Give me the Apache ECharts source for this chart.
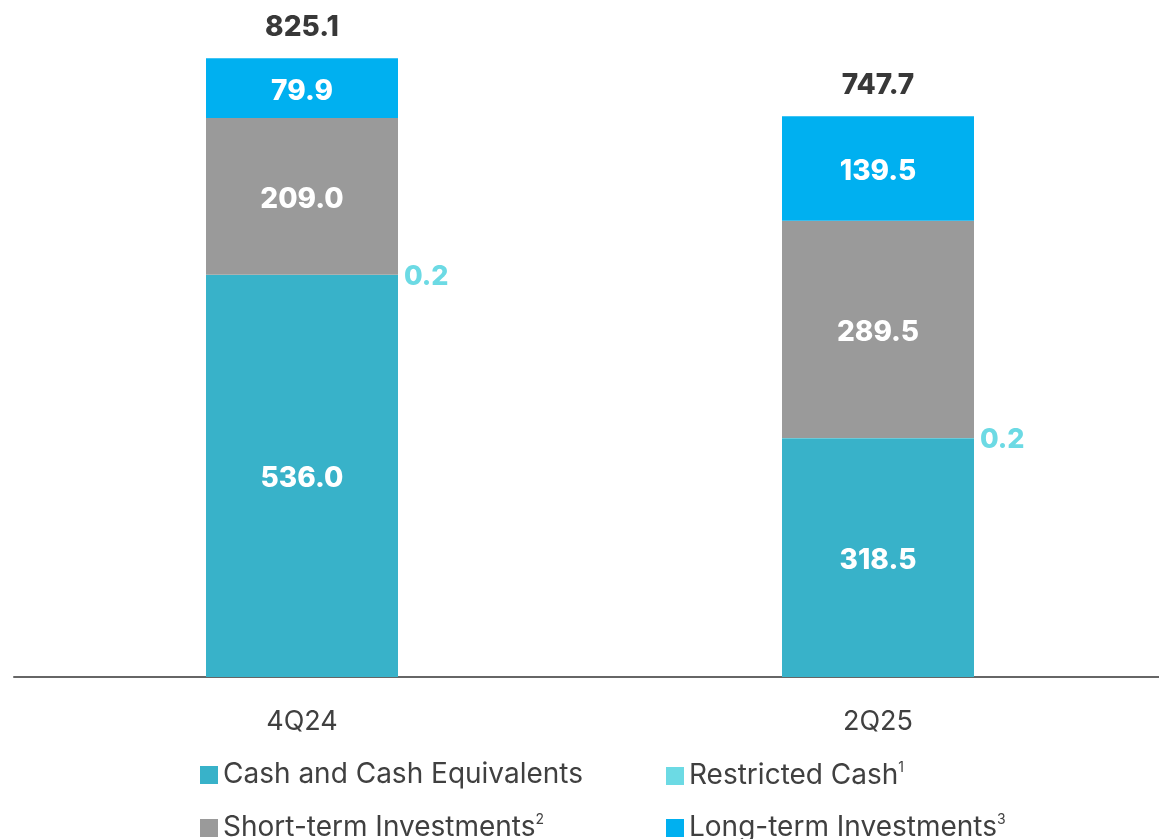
<!DOCTYPE html>
<html>
<head>
<meta charset="utf-8">
<script src="https://cdn.jsdelivr.net/npm/echarts@6/dist/echarts.min.js"></script>
<style>
  html, body { margin: 0; padding: 0; background: #fff; overflow: hidden; }
  /* a bit wider than the window so the category bands match the original */
  #chart { width: 1166px; height: 839px; }
</style>
</head>
<body>
<div id="chart"></div>
<script>
// data
const categories = ['4Q24', '2Q25']
const cashEquivalents = [536.0, 318.5]
const restrictedCash = [0.2, 0.2]
const shortTermInv = [209.0, 289.5]
const longTermInv = [79.9, 139.5]
const totals = [825.1, 747.7]

const FONT = 'Inter, "Open Sans", sans-serif'
const chart = echarts.init(document.getElementById('chart'))

const insideLabel = {
  show: true,
  position: 'inside',
  offset: [0, 3],
  color: '#fff',
  fontFamily: FONT,
  fontWeight: 800,
  fontSize: 28,
  formatter: (p) => p.value.toFixed(1)
}

const legendText = {
  color: '#404040',
  fontFamily: FONT,
  fontSize: 28,
  rich: {
    sup: { fontSize: 14, color: '#404040', verticalAlign: 'top', padding: [0, 0, 16, 0] }
  }
}

const makeLegend = (name, left, top) => ({
  data: [name],
  left: left,
  top: top,
  icon: 'rect',
  itemWidth: 18,
  itemHeight: 18,
  textStyle: legendText,
  formatter: (n) => {
    if (n === 'Restricted Cash') return n + '{sup|1}'
    if (n === 'Short-term Investments') return n + '{sup|2}'
    if (n === 'Long-term Investments') return n + '{sup|3}'
    return n
  }
})

const option = {
  animation: false,
  backgroundColor: '#fff',
  grid: { left: 14, right: 0, top: 2, height: 675 },
  legend: [
    makeLegend('Cash and Cash Equivalents', 195, 756),
    makeLegend('Restricted Cash', 661, 756),
    makeLegend('Short-term Investments', 195, 808),
    makeLegend('Long-term Investments', 661, 808)
  ],
  xAxis: {
    type: 'category',
    data: categories,
    axisLine: { lineStyle: { color: '#666', width: 2 } },
    axisTick: { show: false },
    axisLabel: { color: '#404040', fontFamily: FONT, fontSize: 27, margin: 31 }
  },
  yAxis: {
    type: 'value',
    min: 0,
    max: 900,
    show: false,
    splitLine: { show: false }
  },
  series: [
    {
      name: 'Cash and Cash Equivalents',
      type: 'bar',
      stack: 'total',
      barWidth: 192,
      data: cashEquivalents,
      itemStyle: { color: '#38B2C9' },
      label: insideLabel
    },
    {
      name: 'Restricted Cash',
      type: 'bar',
      stack: 'total',
      barWidth: 192,
      data: restrictedCash,
      itemStyle: { color: '#6CDAE4' },
      label: {
        show: true,
        position: 'right',
        distance: 6,
        offset: [0, 2],
        color: '#6CDAE4',
        fontFamily: FONT,
        fontWeight: 800,
        fontSize: 27,
        formatter: (p) => p.value.toFixed(1)
      }
    },
    {
      name: 'Short-term Investments',
      type: 'bar',
      stack: 'total',
      barWidth: 192,
      data: shortTermInv,
      itemStyle: { color: '#9A9A9A' },
      label: insideLabel
    },
    {
      name: 'Long-term Investments',
      type: 'bar',
      stack: 'total',
      barWidth: 192,
      data: longTermInv,
      itemStyle: { color: '#00B0F0' },
      label: insideLabel
    },
    {
      // invisible points carrying the total labels above each bar
      name: 'Total',
      type: 'scatter',
      data: totals,
      symbolSize: 2,
      itemStyle: { color: 'rgba(0,0,0,0)', opacity: 1 },
      silent: true,
      z: 10,
      label: {
        show: true,
        position: 'top',
        distance: 16,
        color: '#383838',
        fontFamily: FONT,
        fontWeight: 800,
        fontSize: 28,
        formatter: (p) => p.value.toFixed(1)
      }
    }
  ]
}

chart.setOption(option)
</script>
</body>
</html>
